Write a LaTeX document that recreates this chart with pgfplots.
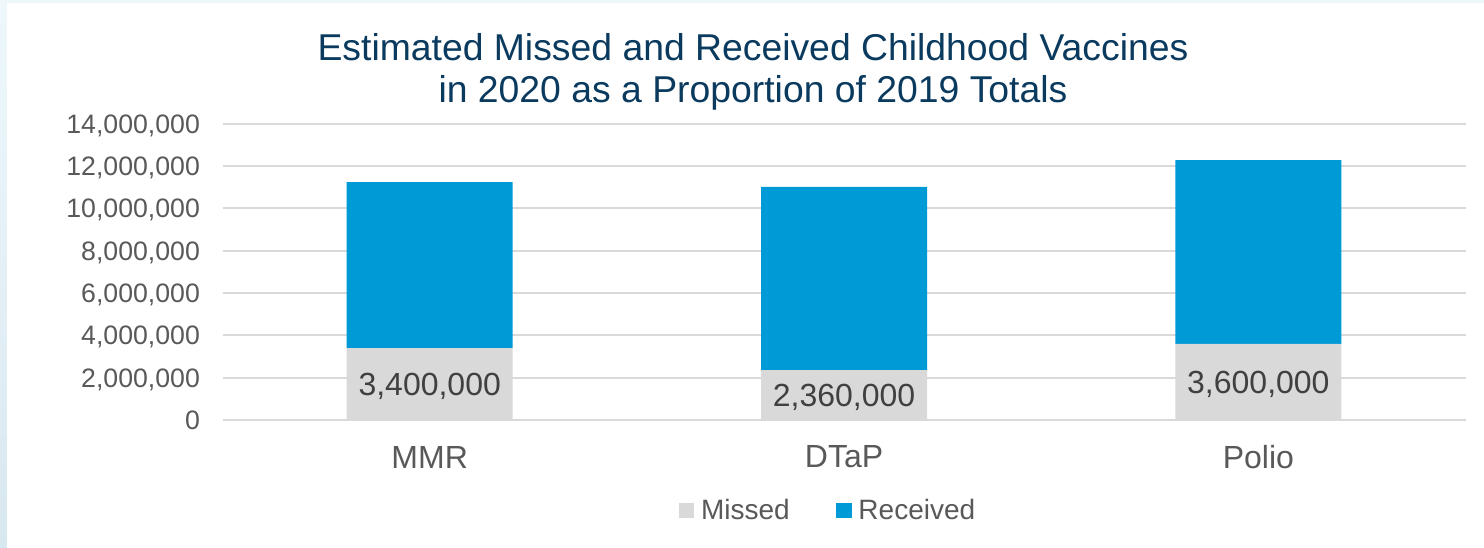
\documentclass[border=0pt]{standalone}
\usepackage{pgfplots}
\pgfplotsset{compat=1.18}
\usepackage{pgfplotstable}
\usepackage{fontspec}
\setmainfont{Liberation Sans}
\definecolor{recblue}{HTML}{009AD7}
\definecolor{misgray}{HTML}{D9D9D9}
\definecolor{gridgray}{HTML}{D9D9D9}
\definecolor{ticktext}{HTML}{595959}
\definecolor{labeltext}{HTML}{404040}
\definecolor{titleblue}{HTML}{0B3A5F}
\definecolor{bgtop}{HTML}{EEF8FC}
\definecolor{bgbot}{HTML}{D8E8F0}

\pgfplotstableread{
x missed received half label
0 3400000 7840000 1700000 3,400,000
1 2360000 8660000 1180000 2,360,000
2 3600000 8680000 1800000 3,600,000
}\datatable

\pgfplotsset{base/.style={scale only axis, width=932.25pt, height=222.2pt,
  at={(166.9pt,96pt)}, anchor=south west,
  xmin=-0.5, xmax=2.5, ymin=0, ymax=14000000}}

\begin{document}
\begin{tikzpicture}
\useasboundingbox (0,0) rectangle (1113pt,411pt);
\shade[bottom color=bgbot, top color=bgtop] (0,0) rectangle (1113pt,411pt);
\fill[white] (5.25pt,0) rectangle (1113pt,408.75pt);

\node[anchor=base, text=titleblue, font=\fontsize{28}{33}\selectfont, inner sep=0pt]
  at (564.75pt,365.25pt) {Estimated Missed and Received Childhood Vaccines};
\node[anchor=base, text=titleblue, font=\fontsize{28}{33}\selectfont, inner sep=0pt]
  at (564.75pt,333.75pt) {in 2020 as a Proportion of 2019 Totals};

\begin{axis}[base,
  ybar stacked, bar width=124.5pt,
  axis line style={draw=none}, tick style={draw=none},
  ymajorgrids, major grid style={draw=gridgray, line width=1.5pt},
  ytick={0,2000000,4000000,6000000,8000000,10000000,12000000,14000000},
  scaled y ticks=false,
  /pgf/number format/fixed,
  /pgf/number format/1000 sep={,},
  /pgf/number format/assume math mode=true,
  yticklabel style={anchor=base east, inner sep=0pt, xshift=-16.8pt, yshift=-7.2pt,
    font=\fontsize{20}{24}\selectfont, text=ticktext},
  xtick={0,1,2}, xticklabels={MMR,DTaP,Polio},
  xticklabel style={anchor=center, inner sep=0pt, yshift=-27.75pt,
    font=\fontsize{24}{28}\selectfont, text=ticktext},
  legend image code/.code={\fill[#1] (0pt,-5.8pt) rectangle (11.5pt,5.7pt); \path (14.5pt,0pt);},
  legend style={draw=none, fill=none, at={(0.4875,-0.306)}, anchor=center,
    legend columns=2, font=\fontsize{21}{25}\selectfont, text=ticktext,
    /tikz/every even column/.append style={column sep=33pt}},
  legend cell align=left,
]
\addplot[fill=misgray, draw=none] table[x=x, y=missed]{\datatable};
\addplot[fill=recblue, draw=none] table[x=x, y=received]{\datatable};
\legend{Missed, Received}
\end{axis}

\begin{axis}[base, hide axis, clip=false]
\addplot[only marks, mark=*, mark size=0pt, nodes near coords, point meta=explicit symbolic,
  every node near coord/.append style={anchor=base, yshift=-8.6pt, inner sep=0pt,
    font=\fontsize{24}{28}\selectfont, text=labeltext}]
  table[x=x, y=half, meta=label]{\datatable};
\end{axis}
\end{tikzpicture}
\end{document}
